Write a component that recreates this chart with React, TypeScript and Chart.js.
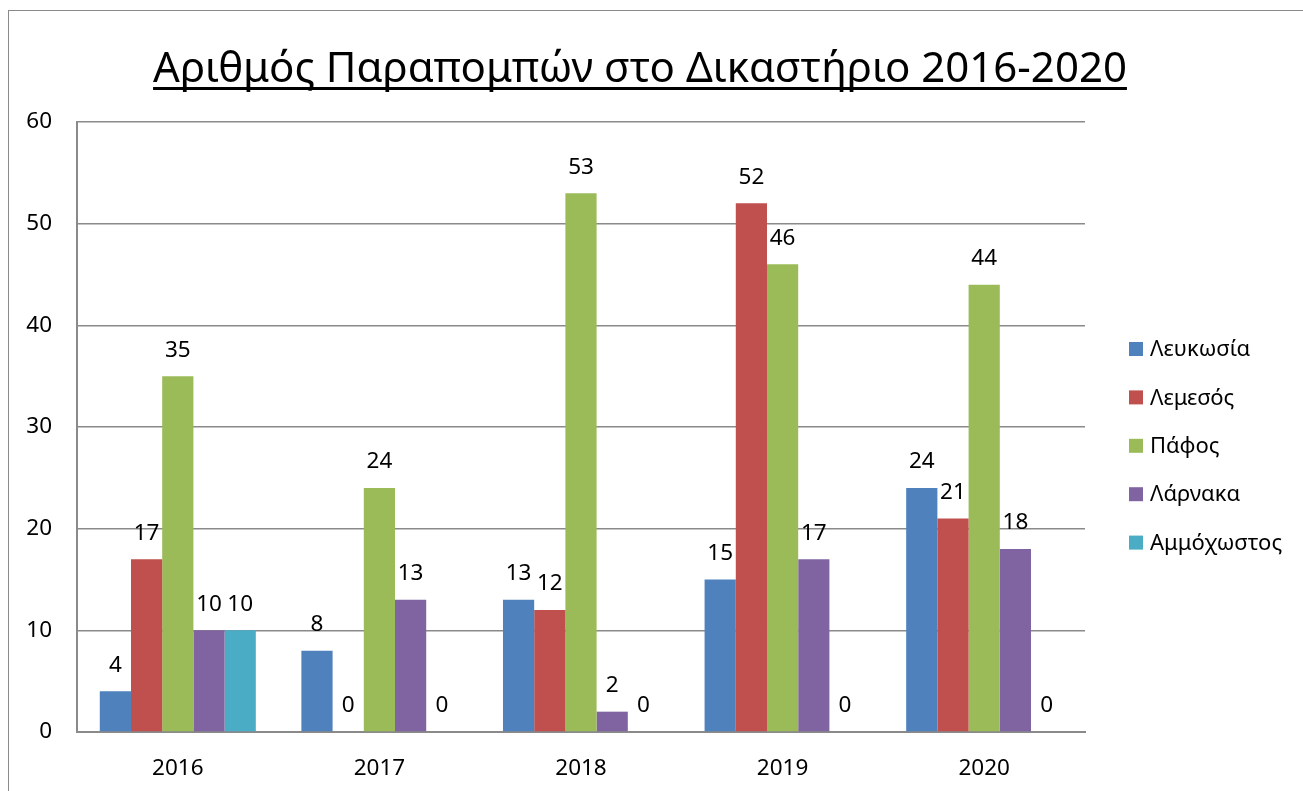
import { useEffect, useRef } from "react";
import { Chart, registerables } from "chart.js";

Chart.register(...registerables);

const years = ["2016", "2017", "2018", "2019", "2020"];
const lefkosia = [4, 8, 13, 15, 24];
const lemesos = [17, 0, 12, 52, 21];
const pafos = [35, 24, 53, 46, 44];
const larnaka = [10, 13, 2, 17, 18];
const ammochostos = [10, 0, 0, 0, 0];
const seriesNames = ["Λευκωσία", "Λεμεσός", "Πάφος", "Λάρνακα", "Αμμόχωστος"];
const seriesValues = [lefkosia, lemesos, pafos, larnaka, ammochostos];
const seriesColors = ["#4F81BD", "#C0504D", "#9BBB59", "#8064A2", "#4BACC6"];
const yMin = 0;
const yMax = 60;
const yStep = 10;
const chartTitle = "Αριθμός Παραπομπών στο Δικαστήριο 2016-2020";

const FONT = '"Noto Sans", "DejaVu Sans", sans-serif';

const titlePlugin = {
  id: "ulTitle",
  afterDraw(chart: any) {
    const ctx = chart.ctx;
    ctx.save();
    ctx.font = `40px ${FONT}`;
    const w0 = ctx.measureText(chartTitle).width;
    const size = (40 * 974) / w0;
    ctx.font = `${size}px ${FONT}`;
    const w = ctx.measureText(chartTitle).width;
    const cx = 631;
    ctx.fillStyle = "#000";
    ctx.textAlign = "center";
    ctx.textBaseline = "alphabetic";
    ctx.fillText(chartTitle, cx, 71);
    ctx.fillRect(cx - w / 2, 76, w, 3);
    ctx.restore();
  },
};

const legendPlugin = {
  id: "sideLegend",
  afterDraw(chart: any) {
    const ctx = chart.ctx;
    ctx.save();
    ctx.font = `22px ${FONT}`;
    ctx.textAlign = "left";
    ctx.textBaseline = "middle";
    chart.data.datasets.forEach((ds: any, i: number) => {
      const cy = 338 + i * 48.4;
      ctx.fillStyle = ds.backgroundColor;
      ctx.fillRect(1120, cy - 7, 14, 14);
      ctx.fillStyle = "#000";
      ctx.fillText(ds.label, 1141, cy + 1);
    });
    ctx.restore();
  },
};

const valueLabelPlugin = {
  id: "valueLabels",
  afterDatasetsDraw(chart: any) {
    const ctx = chart.ctx;
    ctx.save();
    ctx.font = `22.5px ${FONT}`;
    ctx.fillStyle = "#000";
    ctx.textAlign = "center";
    ctx.textBaseline = "middle";
    chart.data.datasets.forEach((ds: any, i: number) => {
      const meta = chart.getDatasetMeta(i);
      meta.data.forEach((el: any, j: number) => {
        ctx.fillText(String(ds.data[j]), el.x, el.y - 26);
      });
    });
    ctx.restore();
  },
};

export default function App() {
  const ref = useRef<HTMLCanvasElement | null>(null);

  useEffect(() => {
    if (!ref.current) return;
    const chart = new Chart(ref.current, {
      type: "bar",
      data: {
        labels: years,
        datasets: seriesNames.map((name, i) => ({
          label: name,
          data: seriesValues[i],
          backgroundColor: seriesColors[i],
          borderWidth: 0,
          barPercentage: 1,
          categoryPercentage: 0.774,
        })),
      },
      options: {
        responsive: false,
        animation: false,
        layout: { padding: { top: 111, right: 218, left: 0, bottom: 0 } },
        plugins: {
          legend: { display: false },
          title: { display: false },
          tooltip: { enabled: false },
        },
        scales: {
          x: {
            grid: { display: false, drawTicks: false },
            border: { display: true, color: "#8a8a8a", width: 2 },
            ticks: { color: "#000", font: { family: FONT, size: 22.5 }, padding: 23 },
            afterFit(scale: any) {
              scale.height = 59;
            },
          },
          y: {
            min: yMin,
            max: yMax,
            grid: { color: "#8a8a8a", lineWidth: 1.5, drawTicks: false },
            border: { display: true, color: "#8a8a8a", width: 2 },
            ticks: {
              stepSize: yStep,
              color: "#000",
              font: { family: FONT, size: 22.5 },
              padding: 25,
            },
            afterFit(scale: any) {
              scale.width = 68;
            },
          },
        },
      },
      plugins: [titlePlugin, legendPlugin, valueLabelPlugin],
    });
    return () => chart.destroy();
  }, []);

  return (
    <div
      style={{
        position: "fixed",
        left: 8,
        top: 10,
        width: 1295,
        height: 781,
        borderLeft: "1px solid #8a8a8a",
        borderTop: "1px solid #8a8a8a",
        background: "#fff",
      }}
    >
      <canvas ref={ref} width={1294} height={780} style={{ display: "block" }} />
    </div>
  );
}
